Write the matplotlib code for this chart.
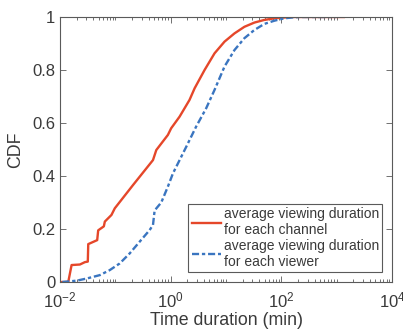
import matplotlib
matplotlib.use("Agg")
import matplotlib.pyplot as plt
from matplotlib.ticker import FixedLocator, FixedFormatter, LogLocator, NullFormatter

plt.rcParams['font.family'] = ['Liberation Sans', 'DejaVu Sans']
plt.rcParams['mathtext.default'] = 'regular'

# Data (x in minutes, y = CDF)
channel_x = [0.0105, 0.0141, 0.0162, 0.0229, 0.0282, 0.0318, 0.0324, 0.0470, 0.0490,
             0.0620, 0.0646, 0.0851, 0.0977, 0.209, 0.479, 0.550, 0.891, 1.02, 1.45,
             2.19, 2.71, 4.10, 6.21, 9.40, 14.2, 21.5, 32.6, 49.4, 74.8, 113, 160, 1349]
channel_y = [0.0, 0.0, 0.064, 0.066, 0.075, 0.077, 0.143, 0.158, 0.195,
             0.21, 0.228, 0.253, 0.278, 0.366, 0.46, 0.498, 0.555, 0.58, 0.624,
             0.687, 0.731, 0.80, 0.863, 0.907, 0.938, 0.963, 0.979, 0.989, 0.995, 0.998, 1.0, 1.0]

viewer_x = [0.0110, 0.0200, 0.0302, 0.0525, 0.0794, 0.120, 0.182, 0.275, 0.417,
            0.479, 0.513, 0.676, 0.891, 1.10, 1.45, 1.91, 2.88, 4.37, 6.21,
            9.40, 14.2, 21.5, 32.6, 49.4, 74.8, 113, 171, 230, 977]
viewer_y = [0.0, 0.005, 0.013, 0.026, 0.045, 0.07, 0.108, 0.152, 0.196,
            0.215, 0.27, 0.30, 0.36, 0.41, 0.46, 0.51, 0.586, 0.655, 0.725,
            0.813, 0.875, 0.92, 0.951, 0.974, 0.986, 0.995, 0.999, 1.0, 1.0]

labels = ['average viewing duration\nfor each channel',
          'average viewing duration\nfor each viewer']

x_ticks = [1e-2, 1e0, 1e2, 1e4]
x_tick_labels = ['10$^{-2}$', '10$^{0}$', '10$^{2}$', '10$^{4}$']
y_ticks = [0, 0.2, 0.4, 0.6, 0.8, 1.0]
y_tick_labels = ['0', '0.2', '0.4', '0.6', '0.8', '1']

red = '#E5472A'
blue = '#3A75C0'
txt = '#3a3a3a'
axc = '#5a5a5a'

fig = plt.figure(figsize=(4.03, 3.31), dpi=100)
ax = fig.add_axes([60/403, 49/331, 332/403, 265/331])

ax.plot(channel_x, channel_y, color=red, lw=1.7, label=labels[0], solid_joinstyle='round')
ax.plot(viewer_x, viewer_y, color=blue, lw=1.7, label=labels[1],
        linestyle=(0, (3.0, 1.2, 1.4, 1.2)))

ax.set_xscale('log')
ax.set_xlim(1e-2, 1e4)
ax.set_ylim(0, 1)
ax.xaxis.set_major_locator(FixedLocator(x_ticks))
ax.xaxis.set_major_formatter(FixedFormatter(x_tick_labels))
ax.xaxis.set_minor_locator(LogLocator(base=10, subs=[1, 2, 3, 4, 5, 6, 7, 8, 9], numticks=20))
ax.xaxis.set_minor_formatter(NullFormatter())
ax.set_yticks(y_ticks)
ax.set_yticklabels(y_tick_labels)

ax.tick_params(which='both', direction='in', top=True, right=True, colors=axc,
               labelcolor=txt, labelsize=12, width=0.6)
ax.tick_params(which='major', length=4)
ax.tick_params(which='minor', length=2)
ax.tick_params(axis='x', which='major', pad=6)
ax.tick_params(axis='y', which='major', pad=3.5)
for s in ax.spines.values():
    s.set_color(axc)
    s.set_linewidth(0.8)

ax.set_xlabel('Time duration (min)', fontsize=12.8, color=txt, labelpad=1.5)
ax.set_ylabel('CDF', fontsize=12.8, color=txt, labelpad=6)

leg = ax.legend(loc='lower right', fontsize=10, frameon=True, fancybox=False,
                edgecolor=axc, framealpha=1, handlelength=2.1, handletextpad=0.2,
                borderpad=0.25, labelspacing=0.1, borderaxespad=0.7)
leg.get_frame().set_linewidth(0.8)
for t in leg.get_texts():
    t.set_color(txt)
    t.set_linespacing(1.2)

fig.savefig('out.png', dpi=100)
